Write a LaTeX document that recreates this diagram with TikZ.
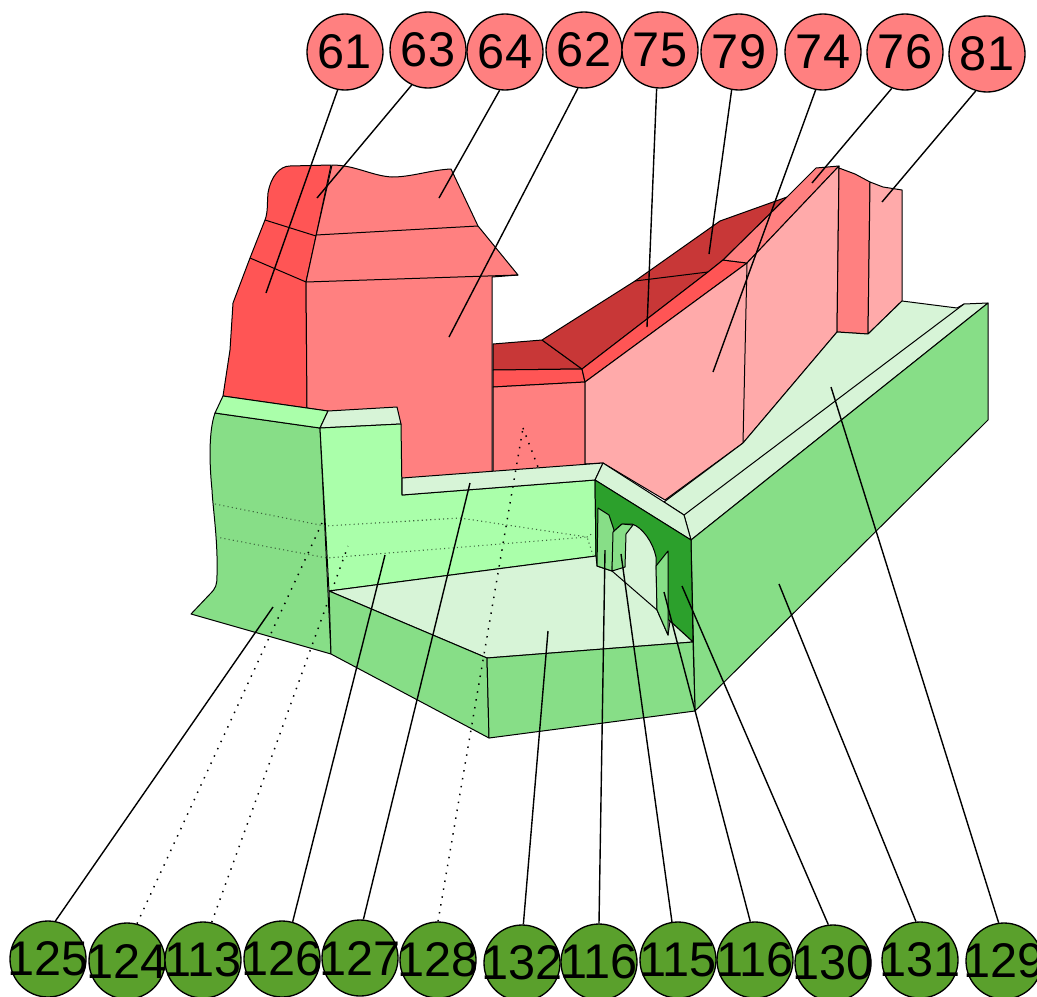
\documentclass[tikz,border=0pt]{standalone}
\usepackage{fontspec}
\setmainfont{Liberation Sans}
\definecolor{rA}{HTML}{FF8080}
\definecolor{rB}{HTML}{FF5555}
\definecolor{rC}{HTML}{C83737}
\definecolor{rD}{HTML}{FFAAAA}
\definecolor{gA}{HTML}{87DE87}
\definecolor{gB}{HTML}{AAFFAA}
\definecolor{gC}{HTML}{D7F4D7}
\definecolor{gD}{HTML}{2CA02C}
\definecolor{gE}{HTML}{5AA02C}
\tikzset{
  face/.style={draw=black,line width=0.75pt,line join=round},
  edgeline/.style={draw=black,line width=0.75pt},
  callout/.style={circle,draw=black,line width=1pt,minimum size=57pt,inner sep=0pt,font=\fontsize{36.5}{36.5}\selectfont},
  topc/.style={callout,fill=rA},
  botc/.style={callout,fill=gE},
  leader/.style={draw=black,line width=1.05pt},
  hiddenleader/.style={draw=black,line width=1.1pt,dash pattern=on 1.1pt off 4.9pt},
  faint/.style={draw=black!55!gA,line width=0.8pt,dash pattern=on 0.8pt off 2.4pt}
}
\newcommand{\lb}[1]{\makebox[0pt][c]{#1}}
\begin{document}
\begin{tikzpicture}[x=0.75pt,y=-0.75pt]
\useasboundingbox (0,0) rectangle (1037,996);
% callouts
\node[topc] (n61) at (345,52) {\lb{61}};
\node[topc] (n63) at (428,50) {\lb{63}};
\node[topc] (n64) at (505,52) {\lb{64}};
\node[topc] (n62) at (584,50) {\lb{62}};
\node[topc] (n75) at (660,50) {\lb{75}};
\node[topc] (n79) at (739,52) {\lb{79}};
\node[topc] (n74) at (823,52) {\lb{74}};
\node[topc] (n76) at (905,52) {\lb{76}};
\node[topc] (n81) at (987,54) {\lb{81}};
\node[botc] (n125) at (48,959) {\lb{125}};
\node[botc] (n124) at (127,961) {\lb{124}};
\node[botc] (n113) at (203,960) {\lb{113}};
\node[botc] (n126) at (282,959) {\lb{126}};
\node[botc] (n127) at (360,958) {\lb{127}};
\node[botc] (n128) at (438,960) {\lb{128}};
\node[botc] (n132) at (522,963) {\lb{132}};
\node[botc] (n116a) at (599,962) {\lb{116}};
\node[botc] (n115) at (678,960) {\lb{115}};
\node[botc] (n116b) at (755,960) {\lb{116}};
\node[botc] (n130) at (833,963) {\lb{130}};
\node[botc] (n131) at (920,960) {\lb{131}};
\node[botc] (n129) at (1004,961) {\lb{129}};
% red building
\path[face,fill=rB] (331,165) -- (290,166) .. controls (280,166) and (271,176) .. (268,193) .. controls (267,205) and (268,212) .. (265,220) -- (250,258) -- (233,303) -- (230,350) -- (223,396) -- (307,408) -- (306,282) -- (316,236) -- cycle;
\path[edgeline] (265,220) -- (316,236) (250,258) -- (306,282);
\path[face,fill=rA] (332,165) .. controls (355,165) and (372,176) .. (392,177) .. controls (412,177) and (430,170) .. (451,169) -- (478,226) -- (518,275) -- (492,277) -- (492,475) -- (402,482) -- (328,411) -- (307,408) -- (306,282) -- (316,236) -- cycle;
\path[edgeline] (316,235) -- (478,226) (306,282) -- (518,275);
% central section
\path[face,fill=rC] (493,344) -- (542,340) -- (582,369) -- (493,370) -- cycle;
\path[face,fill=rB] (493,370) -- (582,369) -- (585,382) -- (493,387) -- cycle;
\path[face,fill=rA] (493,387) -- (585,382) -- (585,466) -- (493,473) -- cycle;
% long roof
\path[face,fill=rC] (542,340) -- (635,281) -- (720,221) -- (787,197) -- (723,260) -- (708,272) -- (582,369) -- cycle;
\path[edgeline] (635,281) -- (708,272);
\path[face,fill=rB] (582,369) -- (708,272) -- (723,260) -- (747,263) -- (585,382) -- cycle;
\path[face,fill=rA] (723,260) -- (787,197) -- (816,168) -- (839,166) -- (747,263) -- cycle;
% pale wall
\path[face,fill=rD] (585,382) -- (747,263) -- (839,166) -- (837,332) -- (743,443) -- (665,500) -- (603,463) -- (585,464) -- cycle;
\path[edgeline] (747,263) -- (743,443);
\path[face,fill=rA] (839,168) -- (855,174) -- (870,182) -- (868,334) -- (837,332) -- cycle;
\path[face,fill=rD] (870,182) -- (883,187) -- (902,190) -- (902,301) -- (868,334) -- cycle;
% ground
\path[face,fill=gC] (743,443) -- (837,332) -- (868,334) -- (902,301) -- (957,308) -- (964,304) -- (988,303) -- (691,540) -- (684,515) -- (664,502) -- cycle;
\path[edgeline] (964,304) -- (684,515);
\path[face,fill=gA] (988,303) -- (988,420) -- (695,711) -- (691,540) -- cycle;
% left wall
\path[face,fill=gA] (215,413) -- (320,428) -- (331,654) -- (191,614) -- (210,594) .. controls (216,588) and (217,585) .. (217,575) .. controls (218,540) and (213,510) .. (212,490) .. controls (209,460) and (209,430) .. cycle;
\path[face,fill=gB] (223,396) -- (328,411) -- (320,428) -- (215,413) -- cycle;
\path[face,fill=gC] (328,411) -- (397,407) -- (401,424) -- (320,428) -- cycle;
% court wall
\path[face,fill=gB] (320,428) -- (401,424) -- (402,495) -- (595,480) -- (596,556) -- (329,591) -- cycle;
\path[face,fill=gC] (402,478) -- (603,463) -- (595,480) -- (402,495) -- cycle;
\path[face,fill=gC] (603,463) -- (664,502) -- (684,515) -- (691,540) -- (595,480) -- cycle;
% arch wall
\path[face,fill=gD] (595,480) -- (691,540) -- (693,642) -- (660,612) -- (596,560) -- cycle;
% court ground
\path[face,fill=gC] (613,532) -- (622,524) -- (632,524) .. controls (642,527) and (653,542) .. (656,557) -- (657,610) -- (668,635) -- (670,621) -- (693,642) -- (487,658) -- (329,591) -- (596,556) -- (597,566) -- (612,571) -- cycle;
\path[edgeline] (612,571) -- (657,610);
\path[face,fill=gA] (598,508) -- (609,515) -- (614,530) -- (612,571) -- (597,566) -- cycle;
\path[face,fill=gA] (613,532) -- (622,524) -- (633,525) -- (626,534) -- (625,567) -- (612,571) -- cycle;
\path[face,fill=gA] (656,566) -- (668,551) -- (668,635) -- (657,610) -- cycle;
% front
\path[face,fill=gA] (329,591) -- (487,658) -- (489,738) -- (331,654) -- cycle;
\path[face,fill=gA] (487,658) -- (693,642) -- (695,711) -- (489,738) -- cycle;
% faint hidden edges
\path[faint] (215,504) -- (325,526) -- (460,518) -- (587,537) -- (593,533);
\path[faint] (216,537) -- (327,558) -- (587,537) -- (593,555);
% leaders
\coordinate (e61) at (266,293);
\coordinate (e63) at (317,198);
\coordinate (e64) at (439,198);
\coordinate (e62) at (449,337);
\coordinate (e75) at (647,327);
\coordinate (e79) at (709,254);
\coordinate (e74) at (713,372);
\coordinate (e76) at (812,183);
\coordinate (e81) at (882,202);
\coordinate (e125) at (273,607);
\coordinate (e124) at (322,523);
\coordinate (e113) at (348,546);
\coordinate (e126) at (385,555);
\coordinate (e127) at (470,483);
\coordinate (e128) at (523,428);
\coordinate (e128b) at (538,467);
\coordinate (e132) at (548,631);
\coordinate (e116a) at (605,550);
\coordinate (e115) at (621,554);
\coordinate (e116b) at (664,592);
\coordinate (e130) at (682,586);
\coordinate (e131) at (779,584);
\coordinate (e129) at (831,387);
\foreach \n/\a in {61/259,63/245,64/262,62/261,75/265,79/259,74/259,76/250,81/253,125/79,126/74,127/85,132/88,116a/90,115/99,116b/97,130/97,131/96,129/98}
  \draw[leader] (n\n.\a) -- (e\n);
\foreach \n/\a in {124/75,113/77,128/90}
  \draw[hiddenleader] (n\n.\a) -- (e\n);
\draw[hiddenleader] (e128) -- (e128b);
\end{tikzpicture}
\end{document}
